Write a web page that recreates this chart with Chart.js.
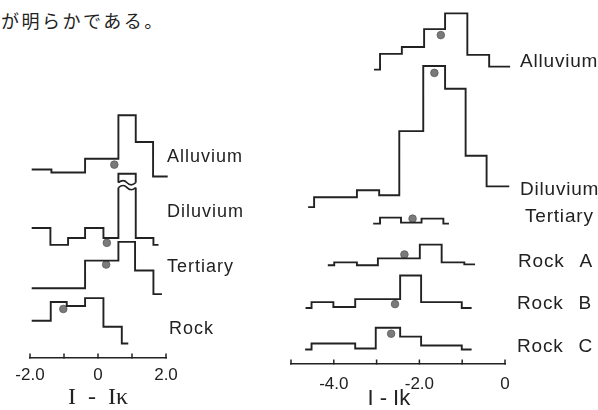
<!DOCTYPE html>
<html><head><meta charset="utf-8">
<script src="https://cdn.jsdelivr.net/npm/chart.js@4/dist/chart.umd.min.js"></script>
<style>
html,body{margin:0;padding:0;background:#fff;width:598px;height:410px;overflow:hidden;position:relative}
#jp{position:absolute;left:1px;top:11px;font-family:"Noto Sans CJK JP";font-size:18px;line-height:18px;letter-spacing:2.5px;color:#222;white-space:nowrap}
#c1{position:absolute;left:0;top:0}
#c2{position:absolute;left:270px;top:0}
</style></head><body>
<div id="jp">が明らかである。</div>
<canvas id="c1" width="260" height="410"></canvas>
<canvas id="c2" width="328" height="410"></canvas>
<script>
// ================= DATA =================
// Left panel: histograms of I - I_K (bin edges, relative frequency)
const leftNames = ['Alluvium', 'Diluvium', 'Tertiary', 'Rock'];
const leftAlluviumEdges = [-1.95, -1.37, -0.38, 0.6, 1.11, 1.62, 2.05];
const leftAlluviumFreq  = [7, 4, 18, 62, 35, 0];
const leftDiluviumEdges = [-1.95, -1.4, -0.88, -0.38, 0.16, 0.6, 1.11, 1.63, 1.78];
const leftDiluviumFreq  = [17, 0, 7, 17, 7, 72, 7, 0];
const leftTertiaryEdges = [-1.95, -0.38, 0.6, 1.09, 1.63, 1.88];
const leftTertiaryFreq  = [6, 34, 53, 24, 0];
const leftRockEdges     = [-1.95, -1.39, -0.92, -0.38, 0.16, 0.70, 0.89];
const leftRockFreq      = [23, 42, 38, 46, 17, 0];
const leftMeanX     = [0.48, 0.26, 0.24, -1.02];
const leftMeanLevel = [12, 2, 30, 35];
const leftTickValues = [-2, 0, 2];
const leftTickLabels = ['-2.0', '0', '2.0'];

// Right panel
const rightNames = ['Alluvium', 'Diluvium', 'Tertiary', 'Rock A', 'Rock B', 'Rock C'];
const rightAlluviumEdges = [-3.06, -2.92, -2.41, -1.89, -1.40, -0.88, -0.37, 0.12, 0.27];
const rightAlluviumFreq  = [0, 16, 23, 41, 57, 15, 3, 0];
const rightDiluviumEdges = [-4.60, -4.46, -3.46, -2.94, -2.47, -1.91, -1.40, -0.92, -0.43, 0.10, 0.19];
const rightDiluviumFreq  = [0, 10, 17, 12, 77, 143, 120, 52, 21, 0];
const rightTertiaryEdges = [-3.08, -2.92, -2.43, -1.95, -1.44, -1.31];
const rightTertiaryFreq  = [0, 6, 1, 5, 0];
const rightRockAEdges = [-4.14, -3.99, -3.46, -2.97, -1.99, -1.48, -0.95, -0.70];
const rightRockAFreq  = [0, 3, 0, 7, 21, 3, 1];
const rightRockBEdges = [-4.66, -4.52, -4.01, -3.50, -2.45, -1.96, -1.01, -0.78];
const rightRockBFreq  = [0, 6, 1, 9, 33, 6, 0];
const rightRockCEdges = [-4.67, -4.52, -3.50, -3.02, -2.45, -1.96, -1.01, -0.78];
const rightRockCFreq  = [0, 6, 1, 22, 13, 4, 0];
const rightMeanX     = [-1.50, -1.65, -2.16, -2.35, -2.57, -2.66];
const rightMeanLevel = [35, 136, 5, 11, 4, 16];
const rightTickValues = [-4, -2, 0];
const rightTickLabels = ['-4.0', '-2.0', '0'];

// ================= LAYOUT (not data) =================
const leftRowBase  = [184, 114.7, 64.7, 14.7];
const rightRowBase = [298.3, 159, 142.3, 100, 56.7, 14.7];
const INK = '#222';

function stepPoints(edges, freq, base) {
  const pts = [];
  for (let i = 0; i < freq.length; i++) {
    pts.push({x: edges[i], y: base + freq[i]});
    pts.push({x: edges[i + 1], y: base + freq[i]});
  }
  return pts;
}
function lineDs(edges, freq, base, label) {
  return {label, data: stepPoints(edges, freq, base), showLine: true, borderColor: INK,
    borderWidth: 1.9, pointRadius: 0, tension: 0, fill: false, clip: false, borderJoinStyle: 'miter'};
}
function meanDs(xs, levels, bases) {
  return {label: 'mean', data: xs.map((x, i) => ({x, y: bases[i] + levels[i]})), showLine: false,
    pointRadius: 3.8, pointBackgroundColor: '#7a7a7a', pointBorderColor: '#5a5a5a', pointBorderWidth: 0.8, clip: false};
}

const inTicks = {
  id: 'inTicks',
  afterDraw(chart) {
    const s = chart.scales.x, ctx = chart.ctx;
    ctx.save(); ctx.strokeStyle = INK; ctx.lineWidth = 1.5;
    s.ticks.forEach(t => {
      const x = s.getPixelForValue(t.value);
      ctx.beginPath(); ctx.moveTo(x, s.top + 0.5); ctx.lineTo(x, s.top - 4.5); ctx.stroke();
    });
    ctx.restore();
  }
};
const rowLabels = {
  id: 'rowLabels',
  afterDraw(chart, args, opts) {
    const ctx = chart.ctx;
    ctx.save();
    ctx.fillStyle = INK; ctx.textBaseline = 'middle'; ctx.textAlign = 'left';
    ctx.font = opts.font;
    ctx.letterSpacing = opts.spacing;
    if ('wordSpacing' in ctx) ctx.wordSpacing = opts.wordSpacing || '0px';
    opts.items.forEach(it => ctx.fillText(it.text, it.x, it.y));
    ctx.restore();
  }
};
const breakMark = {
  id: 'breakMark',
  afterDatasetsDraw(chart, args, opts) {
    if (!opts.items) return;
    const xs = chart.scales.x, ys = chart.scales.y, ctx = chart.ctx;
    opts.items.forEach(b => {
      const x0 = xs.getPixelForValue(b.x0), x1 = xs.getPixelForValue(b.x1);
      const yHi = ys.getPixelForValue(b.hi), yLo = ys.getPixelForValue(b.lo);
      ctx.save();
      ctx.fillStyle = '#fff';
      ctx.fillRect(x0 - 2, yHi, x1 - x0 + 4, yLo - yHi);
      ctx.strokeStyle = INK; ctx.lineWidth = 1.6;
      const w = x1 - x0;
      [yHi, yLo].forEach(yy => {
        ctx.beginPath();
        ctx.moveTo(x0, yy);
        ctx.bezierCurveTo(x0 + w * 0.2, yy - 3, x0 + w * 0.35, yy - 3, x0 + w * 0.5, yy);
        ctx.bezierCurveTo(x0 + w * 0.65, yy + 3, x0 + w * 0.8, yy + 3, x1, yy);
        ctx.stroke();
      });
      ctx.restore();
    });
  }
};

function xScale(min, max, tickVals, tickLbls, title, titleFont, h, tickPad) {
  return {
    type: 'linear', position: 'bottom', min, max,
    grid: {display: false, drawTicks: false},
    border: {display: true, color: INK, width: 1.6},
    ticks: {stepSize: 1, autoSkip: false, maxRotation: 0, color: INK, padding: tickPad,
      font: {family: 'Liberation Sans', size: 17},
      callback: v => { const i = tickVals.indexOf(v); return i >= 0 ? tickLbls[i] : ''; }},
    title: {display: true, text: title, color: INK, font: titleFont, padding: {top: 0, bottom: 0}},
    afterFit: s => { s.height = h; }
  };
}

Chart.defaults.animation = false;

new Chart(document.getElementById('c1'), {
  type: 'scatter',
  data: {datasets: [
    lineDs(leftAlluviumEdges, leftAlluviumFreq, leftRowBase[0], leftNames[0]),
    lineDs(leftDiluviumEdges, leftDiluviumFreq, leftRowBase[1], leftNames[1]),
    lineDs(leftTertiaryEdges, leftTertiaryFreq, leftRowBase[2], leftNames[2]),
    lineDs(leftRockEdges, leftRockFreq, leftRowBase[3], leftNames[3]),
    meanDs(leftMeanX, leftMeanLevel, leftRowBase)
  ]},
  options: {
    responsive: false, devicePixelRatio: 1, animation: false,
    layout: {padding: {left: 30, right: 94, top: 0, bottom: 0}},
    scales: {
      x: xScale(-2, 2, leftTickValues, leftTickLabels, 'I  -  Iκ', {family: 'Liberation Serif', size: 24, lineHeight: 1}, 52, 7),
      y: {type: 'linear', display: false, min: 0, max: 358}
    },
    plugins: {
      legend: {display: false}, tooltip: {enabled: false},
      rowLabels: {font: '18px "Liberation Sans"', spacing: '1px', items: [
        {text: leftNames[0], x: 167, y: 157},
        {text: leftNames[1], x: 167, y: 212},
        {text: leftNames[2], x: 167, y: 267},
        {text: leftNames[3], x: 169, y: 329}
      ]},
      breakMark: {items: [{x0: 0.6, x1: 1.11, hi: leftRowBase[1] + 63, lo: leftRowBase[1] + 58}]}
    }
  },
  plugins: [inTicks, rowLabels, breakMark]
});

new Chart(document.getElementById('c2'), {
  type: 'scatter',
  data: {datasets: [
    lineDs(rightAlluviumEdges, rightAlluviumFreq, rightRowBase[0], rightNames[0]),
    lineDs(rightDiluviumEdges, rightDiluviumFreq, rightRowBase[1], rightNames[1]),
    lineDs(rightTertiaryEdges, rightTertiaryFreq, rightRowBase[2], rightNames[2]),
    lineDs(rightRockAEdges, rightRockAFreq, rightRowBase[3], rightNames[3]),
    lineDs(rightRockBEdges, rightRockBFreq, rightRowBase[4], rightNames[4]),
    lineDs(rightRockCEdges, rightRockCFreq, rightRowBase[5], rightNames[5]),
    meanDs(rightMeanX, rightMeanLevel, rightRowBase)
  ]},
  options: {
    responsive: false, devicePixelRatio: 1, animation: false,
    layout: {padding: {left: 21, right: 93, top: 0, bottom: 0}},
    scales: {
      x: xScale(-5, 0, rightTickValues, rightTickLabels, 'I - Ik   ', {family: 'Liberation Sans', size: 22, lineHeight: 1}, 46, 10),
      y: {type: 'linear', display: false, min: 0, max: 364}
    },
    plugins: {
      legend: {display: false}, tooltip: {enabled: false},
      rowLabels: {font: '19px "Liberation Sans"', spacing: '0.8px', wordSpacing: '9px', items: [
        {text: rightNames[0], x: 250, y: 62},
        {text: rightNames[1], x: 250, y: 190},
        {text: rightNames[2], x: 255, y: 217},
        {text: rightNames[3], x: 248, y: 262},
        {text: rightNames[4], x: 247, y: 304},
        {text: rightNames[5], x: 247, y: 347}
      ]}
    }
  },
  plugins: [inTicks, rowLabels]
});
</script>
</body></html>
